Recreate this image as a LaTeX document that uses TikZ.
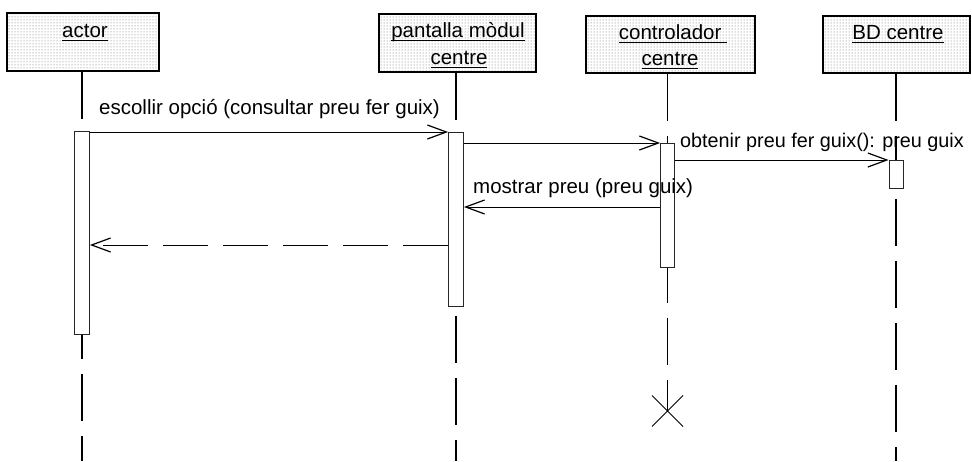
\documentclass[tikz,border=0pt]{standalone}
\usepackage{fontspec}
\setmainfont{Liberation Sans}
\usetikzlibrary{arrows.meta,patterns}
\newcommand\ulx[1]{\setbox0\hbox{#1}\rlap{\rule[-4.2pt]{\wd0}{1.3pt}}\copy0}
\begin{document}
\begin{tikzpicture}[x=1pt,y=-1pt,
  hdr/.style={draw=black,line width=1.2pt,pattern=dots,pattern color=black!60,inner sep=0},
  lbl/.style={font=\fontsize{20.5}{24}\selectfont,inner sep=0,anchor=base west},
  htxt/.style={font=\fontsize{20.5}{24}\selectfont,inner sep=0,anchor=base},
  actbar/.style={draw=black!85,line width=0.8pt,fill=white,minimum width=15pt,inner sep=0,anchor=north},
  life/.style={line width=1.2pt,dash pattern=on 47pt off 15pt},
  msg/.style={line width=0.9pt,-{Straight Barb[length=19pt,width=14pt,line width=1.2pt]}},
]
\useasboundingbox (0,0) rectangle (972,461);
\coordinate (bottom) at (0,461);
% header boxes
\node[hdr,minimum width=152pt,minimum height=58pt] (actor) at (83,42) {};
\node[hdr,minimum width=157pt,minimum height=58pt] (pant) at (457.5,43) {};
\node[hdr,minimum width=169pt,minimum height=57pt] (ctrl) at (670.5,44.5) {};
\node[hdr,minimum width=147pt,minimum height=57pt] (bd) at (896.5,44.5) {};
% header texts
\node[htxt] (t1) at (85,37) {\ulx{actor}};
\node[htxt] (t2a) at (458,37) {\ulx{pantalla mòdul}};
\node[htxt] (t2b) at (459,64) {\ulx{centre}};
\node[htxt] (t3a) at (673,39) {\ulx{controlador\ }};
\node[htxt] (t3b) at (670,65) {\ulx{centre}};
\node[htxt] (t4) at (898,39) {\ulx{BD centre}};
% activation bars
\node[actbar,minimum height=203pt] (abar) at (82,131) {};
\node[actbar,minimum height=174pt] (pbar) at (456,132) {};
\node[actbar,minimum width=14pt,minimum height=124pt] (cbar) at (667.5,143) {};
\node[actbar,minimum width=14pt,minimum height=28pt] (dbar) at (896,160) {};
% lifelines
\draw[life] (actor.south -| abar.north) -- (abar.north);
\draw[life,dash phase=23pt] (abar.south) -- (abar.south |- bottom);
\draw[life] (pant.south -| pbar.north) -- (pbar.north);
\draw[life,dash phase=53pt] (pbar.south) -- (pbar.south |- bottom);
\draw[life] (ctrl.south -| cbar.north) -- (cbar.north);
\coordinate (xend) at (667.5,411);
\draw[life,dash phase=12pt] (cbar.south) -- (xend);
\draw[life] (bd.south -| dbar.north) -- (dbar.north);
\draw[life,dash phase=52pt] (dbar.south) -- (dbar.south |- bottom);
% destruction mark
\draw[line width=1pt] (xend) +(-15.5,-15.5) -- +(15.5,15.5)
      (xend) +(-15.5,15.5) -- +(15.5,-15.5);
% messages
\draw[msg] (abar.east |- pbar.north) -- (pbar.north west);
\node[lbl] (l1) at (99,114) {escollir opció (consultar preu fer guix)};
\draw[msg] (pbar.east |- cbar.north) -- (cbar.north west);
\draw[msg] (cbar.east |- dbar.north) -- (dbar.north west);
\node[lbl,font=\fontsize{19.8}{24}\selectfont] (l3) at (680,147) {obtenir preu fer guix(): preu guix};
\coordinate (r1) at (0,207);
\draw[msg] (cbar.west |- r1) -- (pbar.east |- r1);
\node[lbl] (l4) at (473,193) {mostrar preu (preu guix)};
\coordinate (r2) at (0,245);
\draw[msg,dash pattern=on 45pt off 15pt] (pbar.west |- r2) -- (abar.east |- r2);
\end{tikzpicture}
\end{document}
